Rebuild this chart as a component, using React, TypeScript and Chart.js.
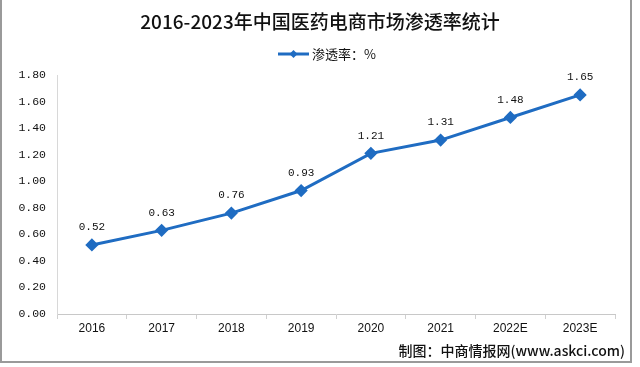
import React, { useEffect, useRef } from "react";
import { Chart, registerables } from "chart.js";
Chart.register(...registerables);

const categories = ["2016", "2017", "2018", "2019", "2020", "2021", "2022E", "2023E"];
const penetration = [0.52, 0.63, 0.76, 0.93, 1.21, 1.31, 1.48, 1.65];
const yTicks = [0, 0.2, 0.4, 0.6, 0.8, 1.0, 1.2, 1.4, 1.6, 1.8];
const titleText = "2016-2023年中国医药电商市场渗透率统计";
const legendText = "渗透率：%";
const sourceText = "制图：中商情报网(www.askci.com)";

const BLUE = "#1f6cc2";

const decorPlugin = {
  id: "decor",
  afterDraw(chart: any) {
    const ctx = chart.ctx;
    ctx.save();
    // frame
    ctx.strokeStyle = "#9a9a9a";
    ctx.lineWidth = 2;
    ctx.beginPath();
    ctx.moveTo(1, 0);
    ctx.lineTo(1, 362);
    ctx.lineTo(631, 362);
    ctx.lineTo(631, 0);
    ctx.stroke();
    // title
    ctx.fillStyle = "#111";
    ctx.font = "500 19px 'Noto Sans CJK SC'";
    ctx.textAlign = "center";
    ctx.textBaseline = "middle";
    ctx.fillText(titleText, 320, 22);
    // legend
    ctx.strokeStyle = BLUE;
    ctx.lineWidth = 3;
    ctx.beginPath();
    ctx.moveTo(278, 54);
    ctx.lineTo(309, 54);
    ctx.stroke();
    ctx.fillStyle = BLUE;
    ctx.beginPath();
    ctx.moveTo(293.5, 50);
    ctx.lineTo(297.5, 54);
    ctx.lineTo(293.5, 58);
    ctx.lineTo(289.5, 54);
    ctx.closePath();
    ctx.fill();
    ctx.fillStyle = "#111";
    ctx.font = "13px 'Noto Sans CJK SC'";
    ctx.textAlign = "left";
    ctx.fillText(legendText, 312, 54);
    // source
    ctx.font = "500 14px 'Noto Sans CJK SC'";
    ctx.textAlign = "right";
    ctx.fillText(sourceText, 625, 351);
    // data labels
    const meta = chart.getDatasetMeta(0);
    ctx.font = "11px 'Liberation Mono'";
    ctx.textAlign = "center";
    ctx.textBaseline = "bottom";
    ctx.fillStyle = "#111";
    meta.data.forEach((pt: any, i: number) => {
      ctx.fillText(penetration[i].toFixed(2), pt.x, pt.y - 12);
    });
    ctx.restore();
  },
};

export default function App() {
  const ref = useRef<HTMLCanvasElement>(null);
  useEffect(() => {
    document.body.style.margin = "0";
    const chart = new Chart(ref.current!, {
      type: "line",
      data: {
        labels: categories,
        datasets: [
          {
            label: legendText,
            data: penetration,
            borderColor: BLUE,
            backgroundColor: BLUE,
            borderWidth: 3,
            pointStyle: "rectRot",
            pointRadius: 4.5,
            pointBackgroundColor: BLUE,
            pointBorderColor: BLUE,
            tension: 0,
          },
        ],
      },
      options: {
        responsive: false,
        animation: false,
        layout: { padding: { top: 75, right: 25, left: 0, bottom: 0 } },
        plugins: { legend: { display: false }, title: { display: false }, tooltip: { enabled: false } },
        scales: {
          x: {
            offset: true,
            grid: { display: true, drawOnChartArea: false, drawTicks: true, tickLength: 5, color: "#d0d0d0", offset: true },
            border: { color: "#c8c8c8" },
            ticks: { color: "#111", font: { family: "Liberation Sans", size: 12 }, padding: 2 },
            afterFit: (s: any) => { s.height = 53; },
          },
          y: {
            min: 0,
            max: 1.8,
            afterBuildTicks: (s: any) => { s.ticks = yTicks.map((v) => ({ value: v })); },
            grid: { display: false, drawTicks: false },
            border: { color: "#d8d8d8" },
            ticks: {
              color: "#111",
              font: { family: "Liberation Mono", size: 11.5 },
              padding: 11,
              callback: (v: any) => Number(v).toFixed(2),
            },
            afterFit: (s: any) => { s.width = 57; },
          },
        },
      },
      plugins: [decorPlugin],
    });
    return () => chart.destroy();
  }, []);
  return <canvas ref={ref} width={640} height={367} style={{ display: "block" }} />;
}
